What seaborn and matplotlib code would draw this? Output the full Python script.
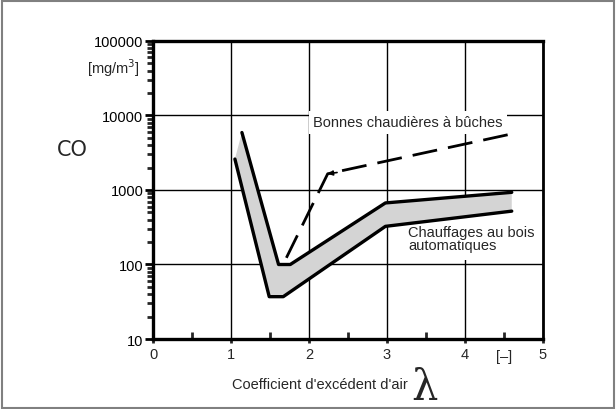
import matplotlib
matplotlib.use("Agg")
import matplotlib.pyplot as plt
import matplotlib.ticker as mticker
from matplotlib.patches import Rectangle
import seaborn as sns
import numpy as np

# automatic wood heating band (upper and lower limit)
upper_x = [1.14, 1.61, 1.76, 2.98, 4.6]
upper_y = [5900, 100, 100, 670, 930]
lower_x = [1.05, 1.49, 1.67, 2.98, 4.6]
lower_y = [2600, 37, 37, 325, 520]

# good log boilers (dashed)
logs_x = [1.71, 2.24, 4.68]
logs_y = [123, 1650, 5900]

x_ticks = [0, 1, 2, 3, 4, 5]
y_ticks = [10, 100, 1000, 10000, 100000]

sns.set_style("ticks")
plt.rcParams['font.family'] = ['Liberation Sans', 'DejaVu Sans']

fig = plt.figure(figsize=(6.16, 4.10), dpi=100)
ax = fig.add_axes([0.2484, 0.1707, 0.633, 0.727])

# grey band
poly_x = upper_x + lower_x[::-1]
poly_y = upper_y + lower_y[::-1]
ax.fill(poly_x, poly_y, color="#d4d4d4", lw=0, zorder=2)

sns.lineplot(x=upper_x, y=upper_y, ax=ax, color="black", lw=2.4, sort=False, zorder=3)
sns.lineplot(x=lower_x, y=lower_y, ax=ax, color="black", lw=2.4, sort=False, zorder=3)
sns.lineplot(x=logs_x, y=logs_y, ax=ax, color="black", lw=2.0, sort=False,
             dashes=False, zorder=3)
ax.lines[-1].set_dashes([9, 4])
ax.annotate("", xy=(logs_x[1], logs_y[1]), xytext=(logs_x[1] + 0.12, logs_y[1] * 1.04),
            arrowprops=dict(arrowstyle="-|>", color="black", lw=1.2,
                            mutation_scale=7, shrinkA=0, shrinkB=0), zorder=3)

ax.set_yscale("log")
ax.set_xlim(0, 5)
ax.set_ylim(10, 100000)
ax.set_xticks(x_ticks)
ax.set_xticks([0.5, 1.5, 2.5, 3.5, 4.5], minor=True)
ax.set_yticks(y_ticks)
ax.yaxis.set_major_formatter(mticker.FuncFormatter(lambda v, p: f"{int(v)}"))
ax.yaxis.set_minor_locator(mticker.LogLocator(base=10, subs=np.arange(2, 10)))
ax.yaxis.set_minor_formatter(mticker.NullFormatter())

ax.grid(True, which="major", color="black", lw=1.0)
ax.set_axisbelow(True)
for s in ["left", "bottom", "top"]:
    ax.spines[s].set_linewidth(2.4)
ax.spines["right"].set_linewidth(2.0)
for s in ax.spines.values():
    s.set_color("black")
    s.set_visible(True)

ax.tick_params(axis="y", which="both", left=True, right=False)
ax.tick_params(axis="x", which="both", bottom=True, top=False)
ax.tick_params(axis="y", which="major", direction="out", length=6, width=2,
               labelsize=10.5, pad=1, colors="black")
ax.tick_params(axis="y", which="minor", direction="out", length=4, width=2)
ax.tick_params(axis="x", which="major", direction="out", length=3, width=2,
               labelsize=10.5, pad=3)
ax.tick_params(axis="x", which="minor", direction="in", length=5, width=2)

ax.text(4.5, -0.035, "[\u2013]", transform=ax.get_xaxis_transform(),
        ha="center", va="top", fontsize=10.5)

ax.text(2.05, 8100, "Bonnes chaudières à bûches", fontsize=10.5, va="center",
        ha="left", bbox=dict(facecolor="white", edgecolor="none", pad=3), zorder=1.5)
ax.text(3.27, 225, "Chauffages au bois\nautomatiques", fontsize=10.5, va="center",
        ha="left", linespacing=0.95, bbox=dict(facecolor="white", edgecolor="none", pad=6),
        zorder=1.5)

fig.text(140 / 616, 1 - 68 / 410, "[mg/m$^3$]", ha="right", va="center", fontsize=10.5)
fig.text(57 / 616, 1 - 150 / 410, "CO", ha="left", va="center", fontsize=15,
         family="DejaVu Sans")
fig.text(408 / 616, 1 - 385 / 410, "Coefficient d'excédent d'air", ha="right",
         va="center", fontsize=10.5)
fig.text(411 / 616, 1 - 388 / 410, "λ", ha="left", va="center", fontsize=30,
         family="DejaVu Serif")

fig.patches.append(Rectangle((0.003, 0.003), 0.994, 0.992, transform=fig.transFigure,
                             fill=False, edgecolor="#808080", lw=1.5))

fig.savefig("out.png", dpi=100)
